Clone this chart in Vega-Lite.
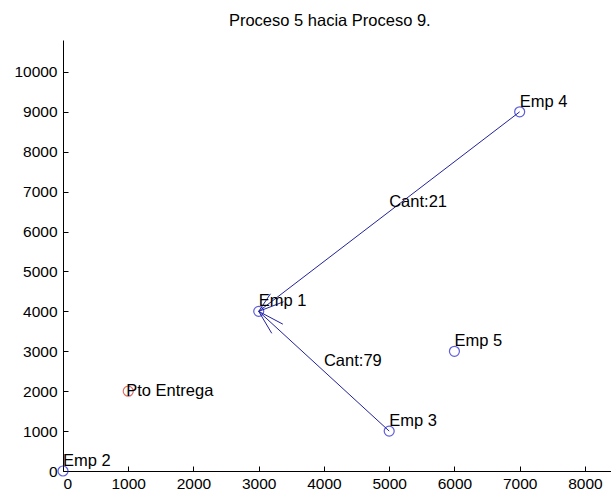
{
  "$schema": "https://vega.github.io/schema/vega-lite/v6.json",
  "autosize": "none",
  "padding": {"left": 63, "top": 40, "right": 0, "bottom": 26},
  "width": 548,
  "height": 431,
  "background": "white",
  "title": {
    "text": "Proceso 5 hacia Proceso 9.",
    "anchor": "start",
    "dx": 215,
    "offset": 11,
    "font": "Liberation Sans",
    "fontSize": 16.5,
    "fontWeight": "normal",
    "color": "black"
  },
  "config": {
    "view": {"stroke": null},
    "axis": {
      "domainColor": "black",
      "tickColor": "black",
      "labelColor": "black",
      "labelFont": "Liberation Sans",
      "labelFontSize": 15.5,
      "grid": false,
      "title": null,
      "tickSize": -5,
      "domainWidth": 1,
      "tickWidth": 1
    }
  },
  "datasets": {
    "pts": [
      {"name": "Emp 1", "x": 3000, "y": 4000, "kind": "emp"},
      {"name": "Emp 2", "x": 0, "y": 0, "kind": "emp"},
      {"name": "Emp 3", "x": 5000, "y": 1000, "kind": "emp"},
      {"name": "Emp 4", "x": 7000, "y": 9000, "kind": "emp"},
      {"name": "Emp 5", "x": 6000, "y": 3000, "kind": "emp"},
      {"name": "Pto Entrega", "x": 1000, "y": 2000, "kind": "pto"}
    ],
    "segs": [
      {"x": 7000, "y": 9000, "x2": 3000, "y2": 4000},
      {"x": 3180, "y": 4440, "x2": 3000, "y2": 4000},
      {"x": 3380, "y": 4240, "x2": 3000, "y2": 4000},
      {"x": 5000, "y": 1000, "x2": 3000, "y2": 4000},
      {"x": 3200, "y": 3450, "x2": 3000, "y2": 4000},
      {"x": 3370, "y": 3680, "x2": 3000, "y2": 4000}
    ],
    "cant": [
      {"label": "Cant:21", "x": 5000, "y": 6500},
      {"label": "Cant:79", "x": 4000, "y": 2500}
    ]
  },
  "layer": [
    {
      "data": {"name": "segs"},
      "mark": {"type": "rule", "color": "#22229a", "strokeWidth": 1},
      "encoding": {
        "x": {"field": "x", "type": "quantitative", "scale": {"domain": [0, 8400], "nice": false, "zero": false},
              "axis": {"values": [0, 1000, 2000, 3000, 4000, 5000, 6000, 7000, 8000], "labelPadding": 10, "format": "d"}},
        "y": {"field": "y", "type": "quantitative", "scale": {"domain": [0, 10800], "nice": false, "zero": false},
              "axis": {"values": [0, 1000, 2000, 3000, 4000, 5000, 6000, 7000, 8000, 9000, 10000], "labelPadding": 11, "format": "d"}},
        "x2": {"field": "x2"},
        "y2": {"field": "y2"}
      }
    },
    {
      "data": {"name": "pts"},
      "mark": {"type": "point", "shape": "circle", "filled": false, "size": 100, "strokeWidth": 1.2},
      "encoding": {
        "x": {"field": "x", "type": "quantitative"},
        "y": {"field": "y", "type": "quantitative"},
        "color": {"field": "kind", "type": "nominal", "scale": {"domain": ["emp", "pto"], "range": ["#1a1ad0", "#d03030"]}, "legend": null}
      }
    },
    {
      "data": {"name": "pts"},
      "transform": [{"filter": "datum.kind == 'emp'"}],
      "mark": {"type": "text", "align": "left", "baseline": "middle", "dy": -10, "font": "Liberation Sans", "fontSize": 16.5, "color": "black"},
      "encoding": {
        "x": {"field": "x", "type": "quantitative"},
        "y": {"field": "y", "type": "quantitative"},
        "text": {"field": "name"}
      }
    },
    {
      "data": {"name": "pts"},
      "transform": [{"filter": "datum.kind == 'pto'"}],
      "mark": {"type": "text", "align": "left", "baseline": "middle", "dx": -2, "font": "Liberation Sans", "fontSize": 16.5, "color": "black"},
      "encoding": {
        "x": {"field": "x", "type": "quantitative"},
        "y": {"field": "y", "type": "quantitative"},
        "text": {"field": "name"}
      }
    },
    {
      "data": {"name": "cant"},
      "mark": {"type": "text", "align": "left", "baseline": "middle", "dy": -10, "font": "Liberation Sans", "fontSize": 16.5, "color": "black"},
      "encoding": {
        "x": {"field": "x", "type": "quantitative"},
        "y": {"field": "y", "type": "quantitative"},
        "text": {"field": "label"}
      }
    }
  ]
}
